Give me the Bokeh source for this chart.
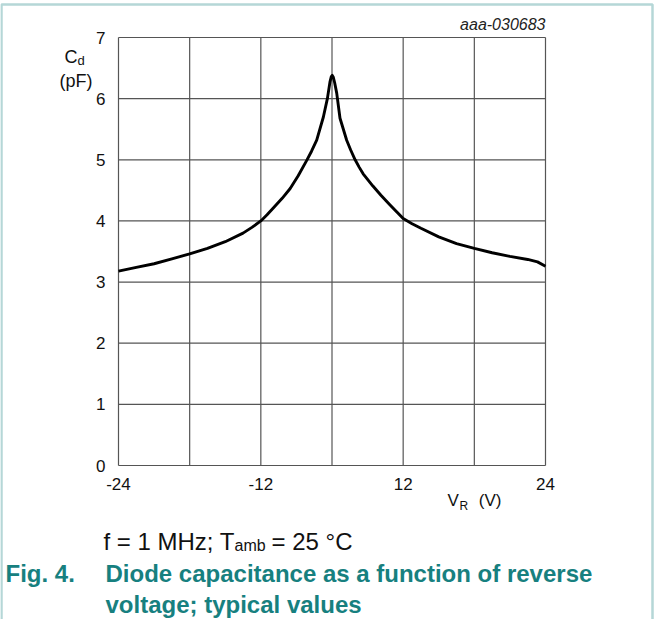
from bokeh.plotting import figure
from bokeh.models import Range1d, FixedTicker, Label, BoxAnnotation
from bokeh.embed import file_html
from bokeh.resources import INLINE

# ---- data (x = position on the chart's voltage grid, y = capacitance pF) ----
vr = [-24, -22, -20, -18, -16, -14, -12, -10, -9, -8, -7.3, -6.6, -5.6, -4.7, -3.8,
      -2.84, -2.3, -1.72, -0.97, -0.52, -0.22, -0.08, 0.03, 0.15, 0.3, 0.53, 0.9,
      1.65, 2.1, 2.6, 3.05, 3.5, 4.6, 5.5, 6.5, 8, 9, 10, 12, 14, 16, 18, 20, 22,
      23.1, 24]
cd = [3.18, 3.24, 3.30, 3.38, 3.46, 3.55, 3.66, 3.80, 3.895, 4.00, 4.10, 4.21, 4.37,
      4.53, 4.74, 4.99, 5.14, 5.32, 5.70, 6.00, 6.28, 6.36, 6.38, 6.35, 6.26, 6.09,
      5.68, 5.32, 5.16, 5.00, 4.88, 4.77, 4.57, 4.42, 4.265, 4.04, 3.955, 3.88, 3.74,
      3.63, 3.55, 3.48, 3.42, 3.37, 3.33, 3.26]

x_ticks = [-24, -16, -8, 0, 8, 16, 24]
x_tick_labels = {-24: "-24", -16: "", -8: "-12", 0: "", 8: "12", 16: "", 24: "24"}
y_ticks = [0, 1, 2, 3, 4, 5, 6, 7]

FONT = "Liberation Sans"
TEAL = "#17807f"
BORDER = "#0a7a7a"

# ---- layout (canvas pixels) ----
W, H = 654, 619
FL, FR, FT, FB = 118, 545, 37, 465          # chart area edges
XMIN, XMAX = x_ticks[0], x_ticks[-1]
YMIN, YMAX = y_ticks[0], y_ticks[-1]
sx = (FR - FL) / (XMAX - XMIN)
sy = (FB - FT) / (YMAX - YMIN)
x_range = Range1d(XMIN - FL / sx, XMAX + (W - FR) / sx)
y_range = Range1d(YMIN - (H - FB) / sy, YMAX + FT / sy)

p = figure(width=W, height=H, output_backend="svg", toolbar_location=None,
           x_range=x_range, y_range=y_range,
           min_border_left=0, min_border_right=0, min_border_top=0, min_border_bottom=0)
p.background_fill_color = "white"
p.border_fill_color = "white"
p.outline_line_color = None
p.grid.visible = False

xa, ya = p.xaxis[0], p.yaxis[0]
xa.fixed_location = YMIN
ya.fixed_location = XMIN
xa.bounds = (XMIN, XMAX)
ya.bounds = (YMIN, YMAX)
for ax in (xa, ya):
    ax.axis_line_color = None
    ax.major_tick_line_color = None
    ax.minor_tick_line_color = None
    ax.major_label_text_font = FONT
    ax.major_label_text_font_size = "17px"
    ax.major_label_text_color = "#111111"
xa.ticker = FixedTicker(ticks=x_ticks)
xa.major_label_overrides = x_tick_labels
xa.major_label_standoff = 6
ya.ticker = FixedTicker(ticks=y_ticks)
ya.major_label_standoff = 7

# grid lines (including the chart border)
p.segment(x0=x_ticks, x1=x_ticks, y0=[YMIN] * len(x_ticks), y1=[YMAX] * len(x_ticks),
          line_color="#555555", line_width=1.2)
p.segment(x0=[XMIN] * len(y_ticks), x1=[XMAX] * len(y_ticks), y0=y_ticks, y1=y_ticks,
          line_color="#555555", line_width=1.2)

p.line(vr, cd, line_color="black", line_width=2.9, line_join="round")

TEXT_SHIFT = 7  # label baseline correction (pixels)


def lab(px, py, text, size, align="left", color="#111111", style="normal"):
    # px, py: canvas pixels from the top-left corner, py is the text baseline
    p.add_layout(Label(x=px, y=H - py + TEXT_SHIFT, x_units="screen", y_units="screen",
                       text=text, text_font=FONT, text_font_size=size, text_align=align,
                       text_baseline="alphabetic", text_color=color,
                       text_font_style=style))


lab(545, 31, "aaa-030683", "16px", align="right", color="#222222", style="italic")
lab(64, 63, "C", "18px")
lab(77, 67, "d", "13px")
lab(75.5, 87, "(pF)", "18px", align="center")
lab(447, 507, "V", "17px")
lab(459, 512, "R", "12px")
lab(501, 507, "(V)", "17px", align="right")
lab(103, 548, "f = 1 MHz; T", "24px")
lab(234, 552, "amb", "16px")
lab(271, 548, "= 25 °C", "24px")
lab(5, 580, "Fig. 4.", "24px", color=TEAL, style="bold")
lab(105, 580, "Diode capacitance as a function of reverse", "24px", color=TEAL, style="bold")
lab(105, 611, "voltage; typical values", "24px", color=TEAL, style="bold")

# page frame (top, left, right edges)
p.add_layout(BoxAnnotation(left=1, right=W - 2, top=H - 4, bottom=-20,
                           left_units="screen", right_units="screen",
                           top_units="screen", bottom_units="screen",
                           fill_color=None, line_color=BORDER, line_width=2.5))

open("out.html", "w").write(file_html(p, INLINE))
